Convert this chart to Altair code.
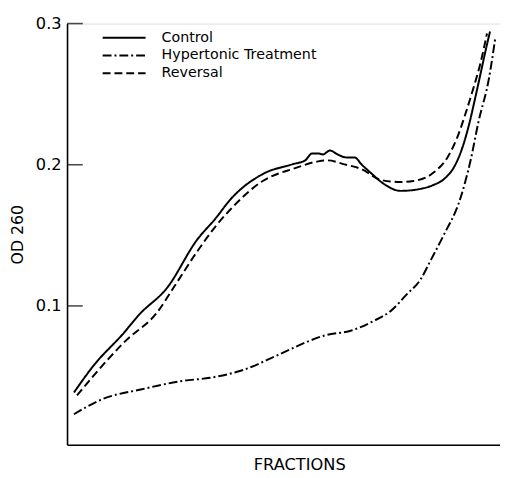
import altair as alt
import pandas as pd

series_names = ["Control", "Hypertonic Treatment", "Reversal"]

control_x = [1.6, 4.5, 5.7, 13.4, 16.4, 23.2, 30.0, 34.5, 37.5, 45.2, 52.0, 55.0, 56.6, 58.0, 59.1,
             60.7, 62.5, 64.5, 66.4, 68.0, 70.2, 73.2, 77.0, 81.6, 84.5, 87.3, 89.5, 91.4, 93.0,
             94.3, 95.7, 96.8, 97.7]
control_y = [0.0387, 0.0512, 0.0561, 0.0819, 0.0930, 0.1132, 0.1467, 0.1627, 0.1746, 0.1934,
             0.2003, 0.2031, 0.2080, 0.2080, 0.2073, 0.2101, 0.2073, 0.2052, 0.2052, 0.2003,
             0.1941, 0.1864, 0.1815, 0.1829, 0.1855, 0.1905, 0.1990, 0.2129, 0.2303, 0.2477,
             0.2672, 0.2826, 0.2944]

hyper_x = [1.6, 8.0, 17.0, 27.0, 33.0, 40.7, 48.2, 55.7, 59.5, 65.7, 70.9, 74.8, 78.4, 81.6,
           84.1, 86.8, 90.9, 93.2, 95.0, 97.5, 98.9]
hyper_y = [0.0233, 0.0338, 0.0408, 0.0470, 0.0491, 0.0547, 0.0645, 0.0749, 0.0791, 0.0826,
           0.0895, 0.0965, 0.1080, 0.1185, 0.1330, 0.1490, 0.1767, 0.2030, 0.2300, 0.2620, 0.2895]

reversal_x = [2.3, 5.7, 13.4, 20.9, 24.8, 30.0, 34.5, 37.5, 45.2, 52.7, 58.0, 60.2, 64.1, 68.0,
              72.5, 77.0, 80.0, 84.5, 88.0, 90.2, 92.0, 93.9, 95.5, 97.0]
reversal_y = [0.0366, 0.0491, 0.0749, 0.0958, 0.1139, 0.1383, 0.1571, 0.1676, 0.1885, 0.1976,
              0.2024, 0.2031, 0.2003, 0.1969, 0.1892, 0.1878, 0.1885, 0.1941, 0.2059, 0.2199,
              0.2359, 0.2547, 0.2721, 0.2930]

tick_values = [0.1, 0.2, 0.3]

rows = []
for name, xs, ys in [("Control", control_x, control_y),
                     ("Hypertonic Treatment", hyper_x, hyper_y),
                     ("Reversal", reversal_x, reversal_y)]:
    for a, b in zip(xs, ys):
        rows.append({"series": name, "fraction": a, "od": b})
df = pd.DataFrame(rows)
ticks_df = pd.DataFrame({"tick": tick_values})

FONT = "DejaVu Sans"

x_scale = alt.Scale(domain=[0, 100], nice=False, zero=False)
y_scale = alt.Scale(domain=[0.0017, 0.3], nice=False, zero=False)

lines = alt.Chart(df).mark_line(interpolate="monotone", color="black", strokeWidth=2).encode(
    x=alt.X("fraction:Q", scale=x_scale,
            axis=alt.Axis(title="FRACTIONS", labels=False, ticks=False, grid=False,
                          domainColor="black", domainWidth=1.6,
                          titleFont=FONT, titleFontSize=16.5, titleFontWeight="normal",
                          titleColor="black", titlePadding=12, titleX=236)),
    y=alt.Y("od:Q", scale=y_scale,
            axis=alt.Axis(title="OD 260", values=tick_values, format=".1f", tickSize=0,
                          grid=False, labelPadding=6, labelFont=FONT, labelFontSize=16.5,
                          labelColor="black", domainColor="black", domainWidth=1.6,
                          titleFont=FONT, titleFontSize=16, titleFontWeight="normal",
                          titleColor="black", titlePadding=10)),
    strokeDash=alt.StrokeDash(
        "series:N",
        scale=alt.Scale(domain=series_names, range=[[1, 0], [9, 3, 2, 3], [8, 4]]),
        legend=alt.Legend(title=None, orient="none", legendX=35, legendY=6,
                          symbolType="stroke", symbolSize=1900, symbolStrokeWidth=2,
                          symbolStrokeColor="black", clipHeight=17, rowPadding=1,
                          labelFont=FONT, labelFontSize=14.5, labelColor="black",
                          labelOffset=15)),
)

# inward-pointing y ticks
tick_marks = alt.Chart(ticks_df).mark_tick(
    color="black", orient="horizontal", thickness=1.6, size=16, xOffset=8
).encode(
    y=alt.Y("tick:Q", scale=y_scale),
    x=alt.datum(0, scale=x_scale),
)

chart = alt.layer(lines, tick_marks).properties(
    width=440, height=428,
    autosize=alt.AutoSizeParams(type="none"),
    padding={"left": 60, "top": 12, "right": 0, "bottom": 30},
).configure_view(stroke=None, clip=False).configure(background="white")

chart.save("out.html", embed_options={"renderer": "svg", "actions": False})
